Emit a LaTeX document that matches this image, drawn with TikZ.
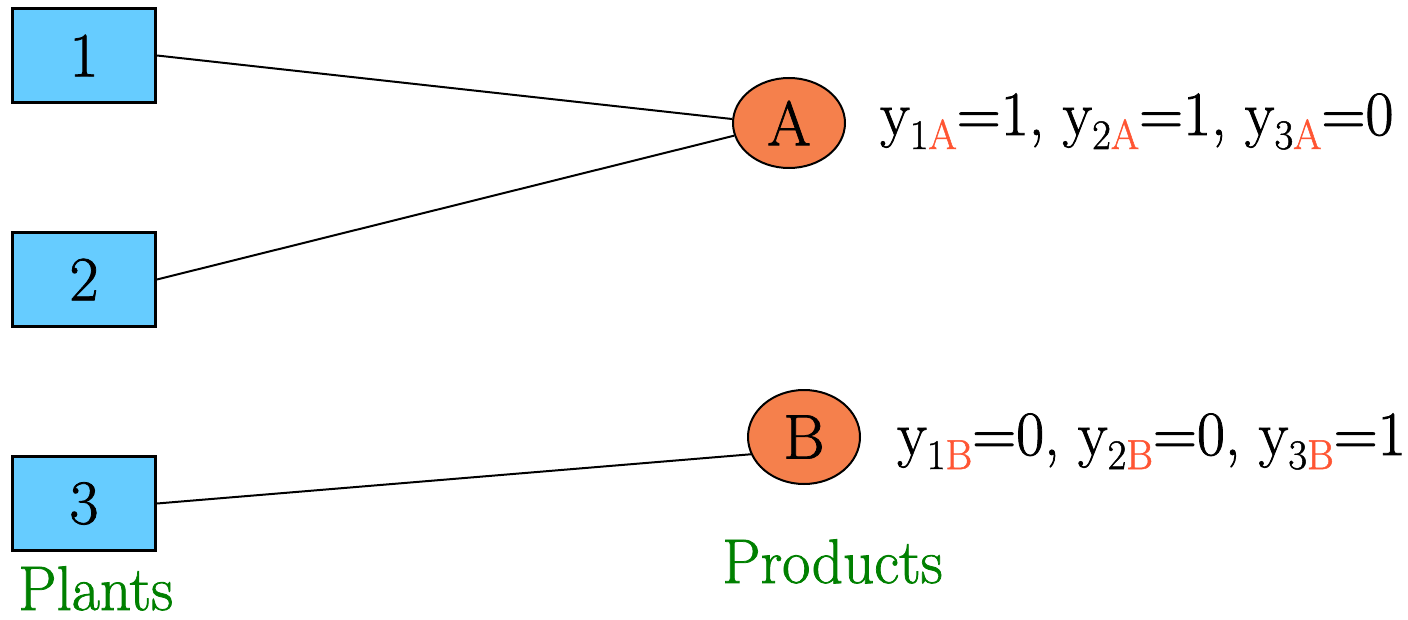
\documentclass[tikz,border=0pt]{standalone}
\usepackage{fontspec}
\setmainfont{Latin Modern Roman}[FakeBold=1.2]
\usetikzlibrary{shapes.geometric}
\definecolor{plantblue}{HTML}{66CCFF}
\definecolor{prodorange}{HTML}{F5804C}
\definecolor{subred}{HTML}{FF5533}
\definecolor{labgreen}{HTML}{008000}
\newcommand{\bigfont}{\rmfamily\fontsize{63}{70}\selectfont}
\newcommand{\nx}[1]{\scalebox{0.97}[1]{#1}}
\newcommand{\subtxt}[2]{{\fontsize{42}{44}\selectfont\raisebox{-14pt}{#1\textcolor{subred}{#2}}}}
\tikzset{
  plant/.style={draw=black, line width=3pt, fill=plantblue, minimum width=143pt, minimum height=94pt, inner sep=0pt, font=\bigfont},
  prod/.style={ellipse, draw=black, line width=2pt, fill=prodorange, minimum width=112pt, inner sep=0pt, font=\bigfont},
  link/.style={draw=black, line width=2pt},
  eqn/.style={anchor=base west, inner sep=0pt, font=\bigfont},
  grp/.style={anchor=base west, inner sep=0pt, font=\bigfont, text=labgreen}
}
\begin{document}
\begin{tikzpicture}[x=1pt,y=-1pt]
\useasboundingbox (0,0) rectangle (1408,620);
\node[plant] (p1) at (84,55.5) {1};
\node[plant] (p2) at (84,279.5) {2};
\node[plant] (p3) at (84,503.5) {3};
\node[prod, minimum height=90pt] (A) at (789,123) {A};
\node[prod, minimum height=94pt] (B) at (804,437) {B};
\draw[link] (p1.east) -- (A.176);
\draw[link] (p2.east) -- (A.193);
\draw[link] (p3.east) -- (B.198);
\node[eqn] (eqA) at (880,135) {\nx{y\subtxt{1}{A}=1, y\subtxt{2}{A}=1, y\subtxt{3}{A}=0}};
\node[eqn] (eqB) at (897,455) {\nx{y\subtxt{1}{B}=0, y\subtxt{2}{B}=0, y\subtxt{3}{B}=1}};
\node[grp] (plants) at (18,610) {\nx{Plants}};
\node[grp] (prods) at (722,583) {\nx{Products}};
\end{tikzpicture}
\end{document}
